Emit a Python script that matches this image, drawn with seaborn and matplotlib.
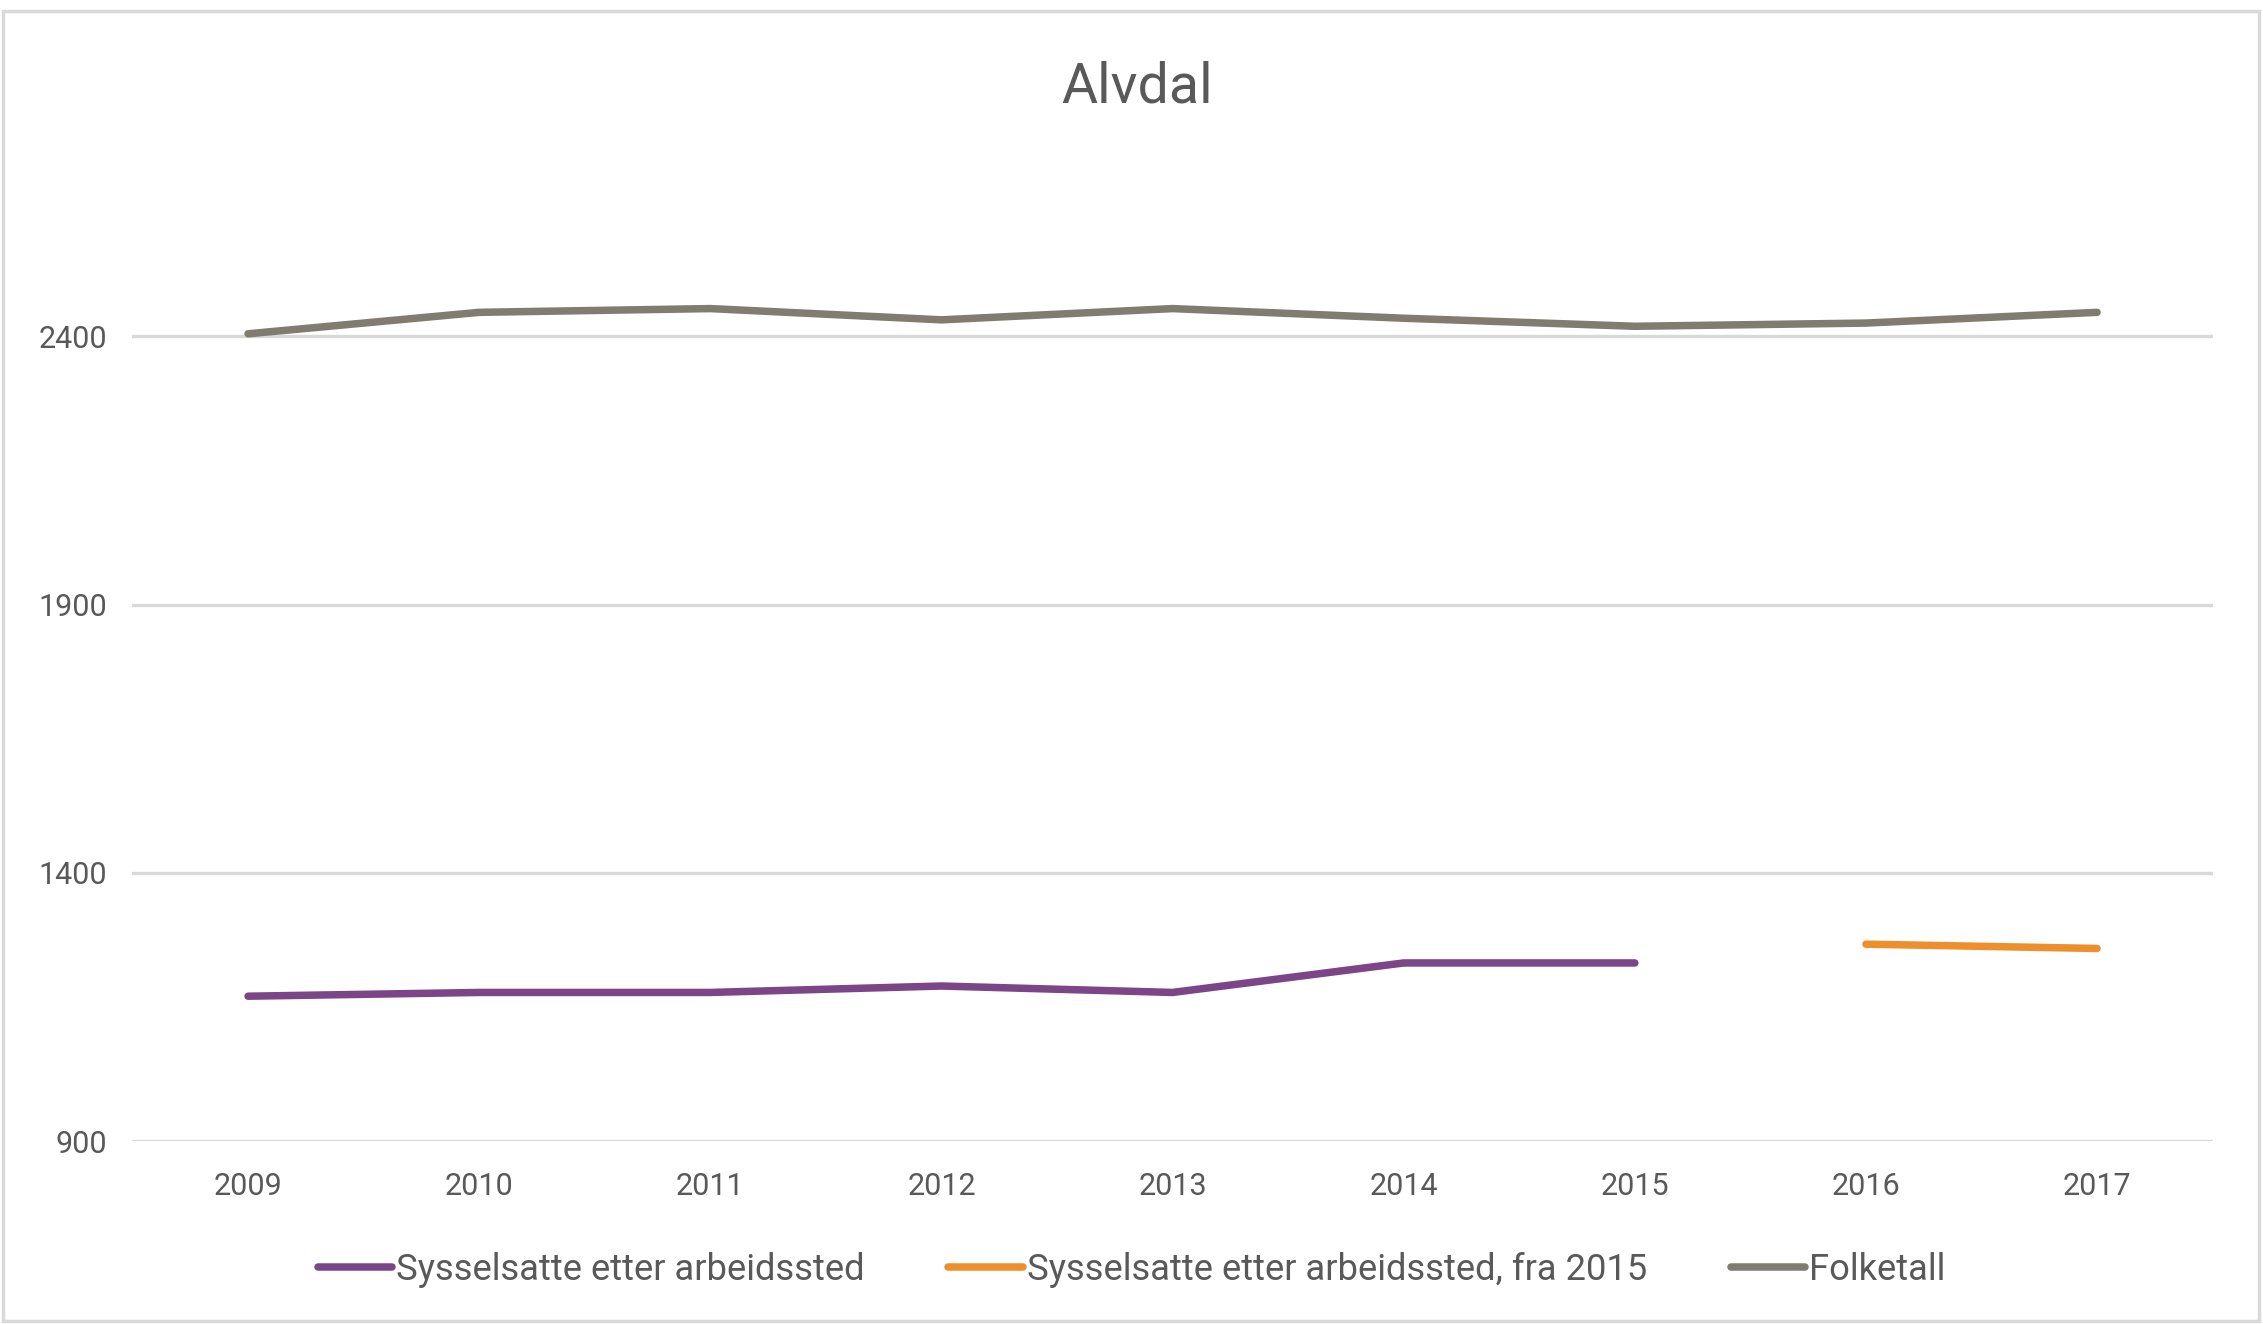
import numpy as np
import pandas as pd
import matplotlib
matplotlib.use("Agg")
import matplotlib.pyplot as plt
import seaborn as sns
from matplotlib.patches import Rectangle

# data
years = [2009, 2010, 2011, 2012, 2013, 2014, 2015, 2016, 2017]
sysselsatte = [1170, 1177, 1177, 1189, 1177, 1232, 1232, np.nan, np.nan]
sysselsatte_2015 = [np.nan, np.nan, np.nan, np.nan, np.nan, np.nan, np.nan, 1267, 1259]
folketall = [2405, 2445, 2452, 2431, 2452, 2434, 2419, 2425, 2445]
y_ticks = [900, 1400, 1900, 2400]

serie_navn = ["Sysselsatte etter arbeidssted",
              "Sysselsatte etter arbeidssted, fra 2015",
              "Folketall"]
farger = ["#7B4587", "#ED8F2C", "#807C6F"]

df = pd.DataFrame({"År": years,
                   serie_navn[0]: sysselsatte,
                   serie_navn[1]: sysselsatte_2015,
                   serie_navn[2]: folketall})
lang = df.melt(id_vars="År", var_name="Serie", value_name="Verdi").dropna()

sns.set_style("white")
plt.rcParams["font.family"] = ["Roboto", "DejaVu Sans"]

fig = plt.figure(figsize=(22.63, 13.24), dpi=100)
ax = fig.add_axes([0.05855, 0.1382, 0.9192, 0.7292])

sns.lineplot(data=lang, x="År", y="Verdi", hue="Serie", hue_order=serie_navn,
             palette=farger, linewidth=5.4, ax=ax, legend=True,
             solid_capstyle="round")

ax.set_xlim(2008.5, 2017.5)
ax.set_ylim(900, 2700)
ax.set_xticks(years)
ax.set_xticklabels([str(y) for y in years])
ax.set_yticks(y_ticks)
ax.yaxis.grid(True, color="#D9D9D9", linewidth=2.4)
ax.xaxis.grid(False)
ax.set_axisbelow(True)
for s in ax.spines.values():
    s.set_visible(False)
ax.tick_params(axis="x", length=0, pad=22, labelsize=22, labelcolor="#595959")
ax.tick_params(axis="y", length=0, pad=18, labelsize=22, labelcolor="#595959")
ax.set_xlabel("")
ax.set_ylabel("")

handles, labels = ax.get_legend_handles_labels()
for h in handles:
    h.set_linewidth(5.4)
leg = ax.legend(handles, labels, loc="center",
                bbox_to_anchor=(0.5, 1 - 1270 / 1324),
                bbox_transform=fig.transFigure, ncol=3, frameon=False,
                fontsize=26.2, handlelength=2.05, handletextpad=0.1,
                columnspacing=2.3, labelcolor="#595959")

fig.text(1137 / 2263, 1 - 87 / 1324, "Alvdal", ha="center", va="center",
         fontsize=40, color="#595959")

# chart frame
fig.patches.append(Rectangle((3 / 2263, 3 / 1324), 1 - 7 / 2263, 1 - 14 / 1324,
                             transform=fig.transFigure, fill=False,
                             edgecolor="#D9D9D9", linewidth=2.5))

fig.savefig("out.png", dpi=100)
